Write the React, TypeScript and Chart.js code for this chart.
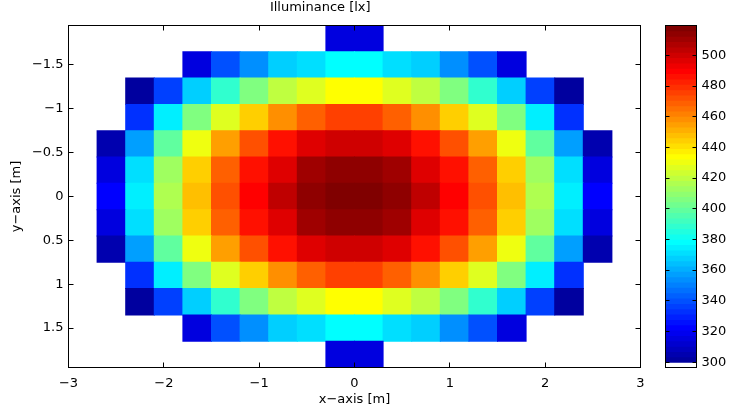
import React, { useEffect, useRef } from 'react';
import { Chart, registerables } from 'chart.js';

Chart.register(...registerables);

// ---- data ----
const xCenters = [-2.55, -2.25, -1.95, -1.65, -1.35, -1.05, -0.75, -0.45, -0.15, 0.15, 0.45, 0.75, 1.05, 1.35, 1.65, 1.95, 2.25, 2.55];
const yCenters = [-1.8, -1.5, -1.2, -0.9, -0.6, -0.3, 0, 0.3, 0.6, 0.9, 1.2, 1.5, 1.8];
const N = null;
// illuminance [lx], one row per y centre (top to bottom), one column per x centre
const illuminance: (number | null)[][] = [
  [N, N, N, N, N, N, N, N, 317, 317, N, N, N, N, N, N, N, N],
  [N, N, N, 317, 340, 353, 368, 373, 378, 378, 373, 368, 353, 340, 317, N, N, N],
  [N, 302, 337, 368, 389, 406, 420, 427, 434, 434, 427, 420, 406, 389, 368, 337, 302, N],
  [N, 333, 375, 406, 427, 445, 459, 469, 476, 476, 469, 459, 445, 427, 406, 375, 333, N],
  [305, 358, 400, 431, 455, 473, 487, 497, 501, 501, 497, 487, 473, 455, 431, 400, 358, 305],
  [316, 371, 413, 445, 469, 487, 497, 511, 515, 515, 511, 497, 487, 469, 445, 413, 371, 316],
  [323, 375, 417, 448, 473, 490, 504, 515, 518, 518, 515, 504, 490, 473, 448, 417, 375, 323],
  [316, 371, 413, 445, 469, 487, 497, 511, 515, 515, 511, 497, 487, 469, 445, 413, 371, 316],
  [305, 358, 400, 431, 455, 473, 487, 497, 501, 501, 497, 487, 473, 455, 431, 400, 358, 305],
  [N, 333, 375, 406, 427, 445, 459, 469, 476, 476, 469, 459, 445, 427, 406, 375, 333, N],
  [N, 302, 337, 368, 389, 406, 420, 427, 434, 434, 427, 420, 406, 389, 368, 337, 302, N],
  [N, N, N, 317, 340, 353, 368, 373, 378, 378, 373, 368, 353, 340, 317, N, N, N],
  [N, N, N, N, N, N, N, N, 317, 317, N, N, N, N, N, N, N, N],
];
const cellSize = 0.3;
const xTicks = [-3, -2, -1, 0, 1, 2, 3];
const yTicks = [-1.5, -1, -0.5, 0, 0.5, 1, 1.5];
const colorbarTicks = [300, 320, 340, 360, 380, 400, 420, 440, 460, 480, 500];
const colorMin = 296.5;
const colorMax = 519.5;
const colorLevels = 64;

// ---- colormap: MATLAB jet(64) with the lowest entry replaced by white ----
function jetRow(k: number): string {
  const n = 16;
  const u: number[] = [];
  for (let i = 1; i <= n; i++) u.push(i / n);
  for (let i = 0; i < n - 1; i++) u.push(1);
  for (let i = n; i >= 1; i--) u.push(i / n);
  const at = (idx: number) => (idx >= 0 && idx < u.length ? u[idx] : 0);
  const r = Math.round(at(k - 25) * 255);
  const g = Math.round(at(k - 9) * 255);
  const b = Math.round(at(k + 7) * 255);
  return `rgb(${r},${g},${b})`;
}
const colormap: string[] = [];
for (let i = 0; i < colorLevels; i++) colormap.push(i === 0 ? '#ffffff' : jetRow(i + 1));
function colorFor(v: number): string {
  let i = Math.floor(((v - colorMin) / (colorMax - colorMin)) * colorLevels);
  i = Math.max(0, Math.min(colorLevels - 1, i));
  return colormap[i];
}

const FONT_FAMILY = "'DejaVu Sans', 'Liberation Sans', sans-serif";
const font = { family: FONT_FAMILY, size: 13, weight: 'normal' as const };
const fmt = (v: number | string) => {
  const n = Number(v);
  return n < 0 ? '\u2212' + String(Math.abs(n)) : String(n);
};

const W = 731;
const H = 416;
const plot = { left: 68.5, right: 640.5, top: 25.5, bottom: 367.5 };
const cbar = { left: 665.5, right: 696.5 };

function boxPlugin(tickLen: number, xTickVals: number[] | null, yTickVals: number[], bothSidesY: boolean) {
  return {
    id: 'matlabBox',
    afterDatasetsDraw(chart: any) {
      const { ctx, chartArea } = chart;
      const { left, right, top, bottom } = chartArea;
      ctx.save();
      ctx.strokeStyle = '#000';
      ctx.lineWidth = 1;
      ctx.beginPath();
      if (xTickVals) {
        const xs = chart.scales.x;
        for (const v of xTickVals) {
          const p = Math.floor(xs.getPixelForValue(v)) + 0.5;
          ctx.moveTo(p, bottom);
          ctx.lineTo(p, bottom - tickLen);
          ctx.moveTo(p, top);
          ctx.lineTo(p, top + tickLen);
        }
      }
      const ys = chart.scales.y;
      for (const v of yTickVals) {
        const p = Math.floor(ys.getPixelForValue(v)) + 0.5;
        ctx.moveTo(left, p);
        ctx.lineTo(left + tickLen, p);
        if (bothSidesY) {
          ctx.moveTo(right, p);
          ctx.lineTo(right - tickLen, p);
        }
      }
      ctx.stroke();
      ctx.strokeRect(left, top, right - left, bottom - top);
      ctx.restore();
    },
  };
}

export default function App() {
  const mainRef = useRef<HTMLCanvasElement>(null);
  const cbRef = useRef<HTMLCanvasElement>(null);

  useEffect(() => {
    const cells: any[] = [];
    illuminance.forEach((row, r) =>
      row.forEach((v, c) => {
        if (v !== null) {
          cells.push({ x: xCenters[c], y: [yCenters[r] - cellSize / 2, yCenters[r] + cellSize / 2], v });
        }
      })
    );

    const main = new Chart(mainRef.current!, {
      type: 'bar',
      data: {
        datasets: [
          {
            data: cells,
            backgroundColor: (ctx: any) => (ctx.raw ? colorFor(ctx.raw.v) : '#fff'),
            borderWidth: 0,
            barPercentage: 1,
            categoryPercentage: 1,
            inflateAmount: 0.5,
          } as any,
        ],
      },
      options: {
        animation: false,
        responsive: false,
        devicePixelRatio: 1,
        layout: { padding: { left: 0, right: W - plot.right, top: 0, bottom: 0 } },
        plugins: {
          legend: { display: false },
          tooltip: { enabled: false },
          title: {
            display: true,
            text: 'Illuminance [lx]',
            color: '#000',
            font,
            padding: { top: 0, bottom: plot.top - 15.6 },
          },
        },
        scales: {
          x: {
            type: 'linear',
            min: -3,
            max: 3,
            offset: false,
            grid: { display: false, drawTicks: false, offset: false },
            border: { display: false },
            afterBuildTicks: (s: any) => {
              s.ticks = xTicks.map((value) => ({ value }));
            },
            ticks: { color: '#000', font, padding: 8, maxRotation: 0, autoSkip: false, callback: fmt },
            title: { display: true, text: 'x\u2212axis [m]', color: '#000', font, padding: { top: 0, bottom: 8.2 } },
            afterFit: (s: any) => {
              s.height = H - plot.bottom;
            },
          },
          y: {
            type: 'linear',
            min: -1.95,
            max: 1.95,
            reverse: true,
            grid: { display: false, drawTicks: false },
            border: { display: false },
            afterBuildTicks: (s: any) => {
              s.ticks = yTicks.map((value) => ({ value }));
            },
            ticks: { color: '#000', font, padding: 5, autoSkip: false, callback: fmt },
            title: { display: true, text: 'y\u2212axis [m]', color: '#000', font, padding: { top: 9.2, bottom: 0 } },
            afterFit: (s: any) => {
              s.width = plot.left;
            },
          },
        },
      } as any,
      plugins: [boxPlugin(5, xTicks, yTicks, true)],
    });

    const step = (colorMax - colorMin) / colorLevels;
    const levels: any[] = colormap.map((col, i) => ({ x: 'cb', y: [colorMin + i * step, colorMin + (i + 1) * step], col }));
    const cb = new Chart(cbRef.current!, {
      type: 'bar',
      data: {
        labels: ['cb'],
        datasets: [
          {
            data: levels,
            backgroundColor: (ctx: any) => (ctx.raw ? ctx.raw.col : '#fff'),
            borderWidth: 0,
            barPercentage: 1,
            categoryPercentage: 1,
            inflateAmount: 0.5,
          } as any,
        ],
      },
      options: {
        animation: false,
        responsive: false,
        devicePixelRatio: 1,
        layout: { padding: { left: cbar.left, right: 0, top: plot.top, bottom: H - plot.bottom } },
        plugins: { legend: { display: false }, tooltip: { enabled: false }, title: { display: false } },
        scales: {
          x: { type: 'category', display: false, offset: true },
          y: {
            type: 'linear',
            position: 'right',
            min: colorMin,
            max: colorMax,
            grid: { display: false, drawTicks: false },
            border: { display: false },
            afterBuildTicks: (s: any) => {
              s.ticks = colorbarTicks.map((value) => ({ value }));
            },
            ticks: { color: '#000', font, padding: 5, autoSkip: false },
            afterFit: (s: any) => {
              s.width = W - cbar.right;
            },
          },
        },
      } as any,
      plugins: [boxPlugin(4, null, colorbarTicks, true)],
    });

    return () => {
      main.destroy();
      cb.destroy();
    };
  }, []);

  return (
    <div style={{ position: 'fixed', left: 0, top: 0, width: W, height: H, background: '#fff' }}>
      <canvas ref={mainRef} width={W} height={H} style={{ position: 'absolute', left: 0, top: 0, width: W, height: H }} />
      <canvas ref={cbRef} width={W} height={H} style={{ position: 'absolute', left: 0, top: 0, width: W, height: H }} />
    </div>
  );
}
